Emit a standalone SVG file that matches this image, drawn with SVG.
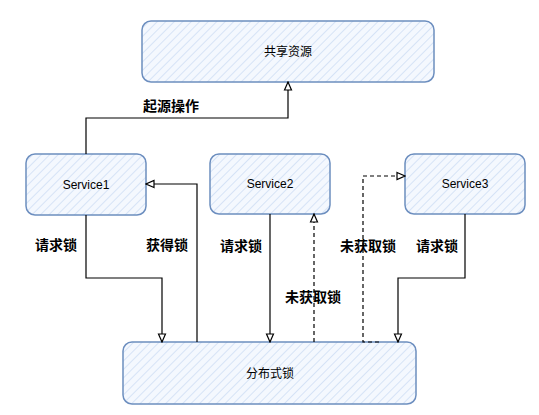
<svg xmlns="http://www.w3.org/2000/svg" width="539" height="415" viewBox="0 0 539 415">
<defs>
<pattern id="hatch" patternUnits="userSpaceOnUse" width="6" height="6" patternTransform="rotate(45)">
<rect width="6" height="6" fill="#f4f8fe"/>
<line x1="0" y1="0" x2="0" y2="6" stroke="#c9daf3" stroke-width="1.4"/>
</pattern>
<marker id="arr" viewBox="0 0 10 10" refX="9" refY="5" markerWidth="10" markerHeight="10" markerUnits="userSpaceOnUse" orient="auto">
<path d="M1,1.5 L9,5 L1,8.5 Z" fill="#ffffff" stroke="#000" stroke-width="1.2"/>
</marker>
<style>
.box{fill:url(#hatch);stroke:#6c8ebf;stroke-width:1.5}
.nt{font-family:"Liberation Sans","Noto Sans CJK SC",sans-serif;font-size:12px;text-anchor:middle;dominant-baseline:central;fill:#000}
.lbl{font-family:"Liberation Sans","Noto Sans CJK SC",sans-serif;font-size:14px;font-weight:bold;text-anchor:middle;dominant-baseline:central;fill:#000}
.c{fill:none;stroke:#000;stroke-width:1.2;marker-end:url(#arr)}
.d{stroke-dasharray:4 3}
</style>
</defs>
<rect width="539" height="415" fill="#fff"/>
<g id="res"><rect class="box" x="142" y="21" width="292" height="61" rx="9"/><text class="nt" x="288" y="52">共享资源</text></g>
<g id="s1"><rect class="box" x="26" y="154" width="120" height="61" rx="9"/><text class="nt" x="86" y="185">Service1</text></g>
<g id="s2"><rect class="box" x="210" y="154" width="120" height="60" rx="9"/><text class="nt" x="270" y="184">Service2</text></g>
<g id="s3"><rect class="box" x="405" y="154" width="120" height="60" rx="9"/><text class="nt" x="465" y="184">Service3</text></g>
<g id="lock"><rect class="box" x="123" y="342" width="293" height="62" rx="9"/><text class="nt" x="270" y="374">分布式锁</text></g>
<g id="connectors">
<path class="c" d="M86,154 V118 H288 V82"/>
<path class="c" d="M86,215 V278 H162 V342"/>
<path class="c" d="M197,342 V184 H146"/>
<path class="c" d="M270,214 V342"/>
<path class="c d" d="M314,342 V214"/>
<path class="c d" d="M379,342 H363 V176 H405"/>
<path class="c" d="M465,214 V278 H398 V342"/>
</g>
<g id="labels">
<text class="lbl" x="171" y="106">起源操作</text>
<text class="lbl" x="56" y="245">请求锁</text>
<text class="lbl" x="167" y="245">获得锁</text>
<text class="lbl" x="241" y="246">请求锁</text>
<text class="lbl" x="313" y="297">未获取锁</text>
<text class="lbl" x="368" y="246">未获取锁</text>
<text class="lbl" x="437" y="246">请求锁</text>
</g>
</svg>
